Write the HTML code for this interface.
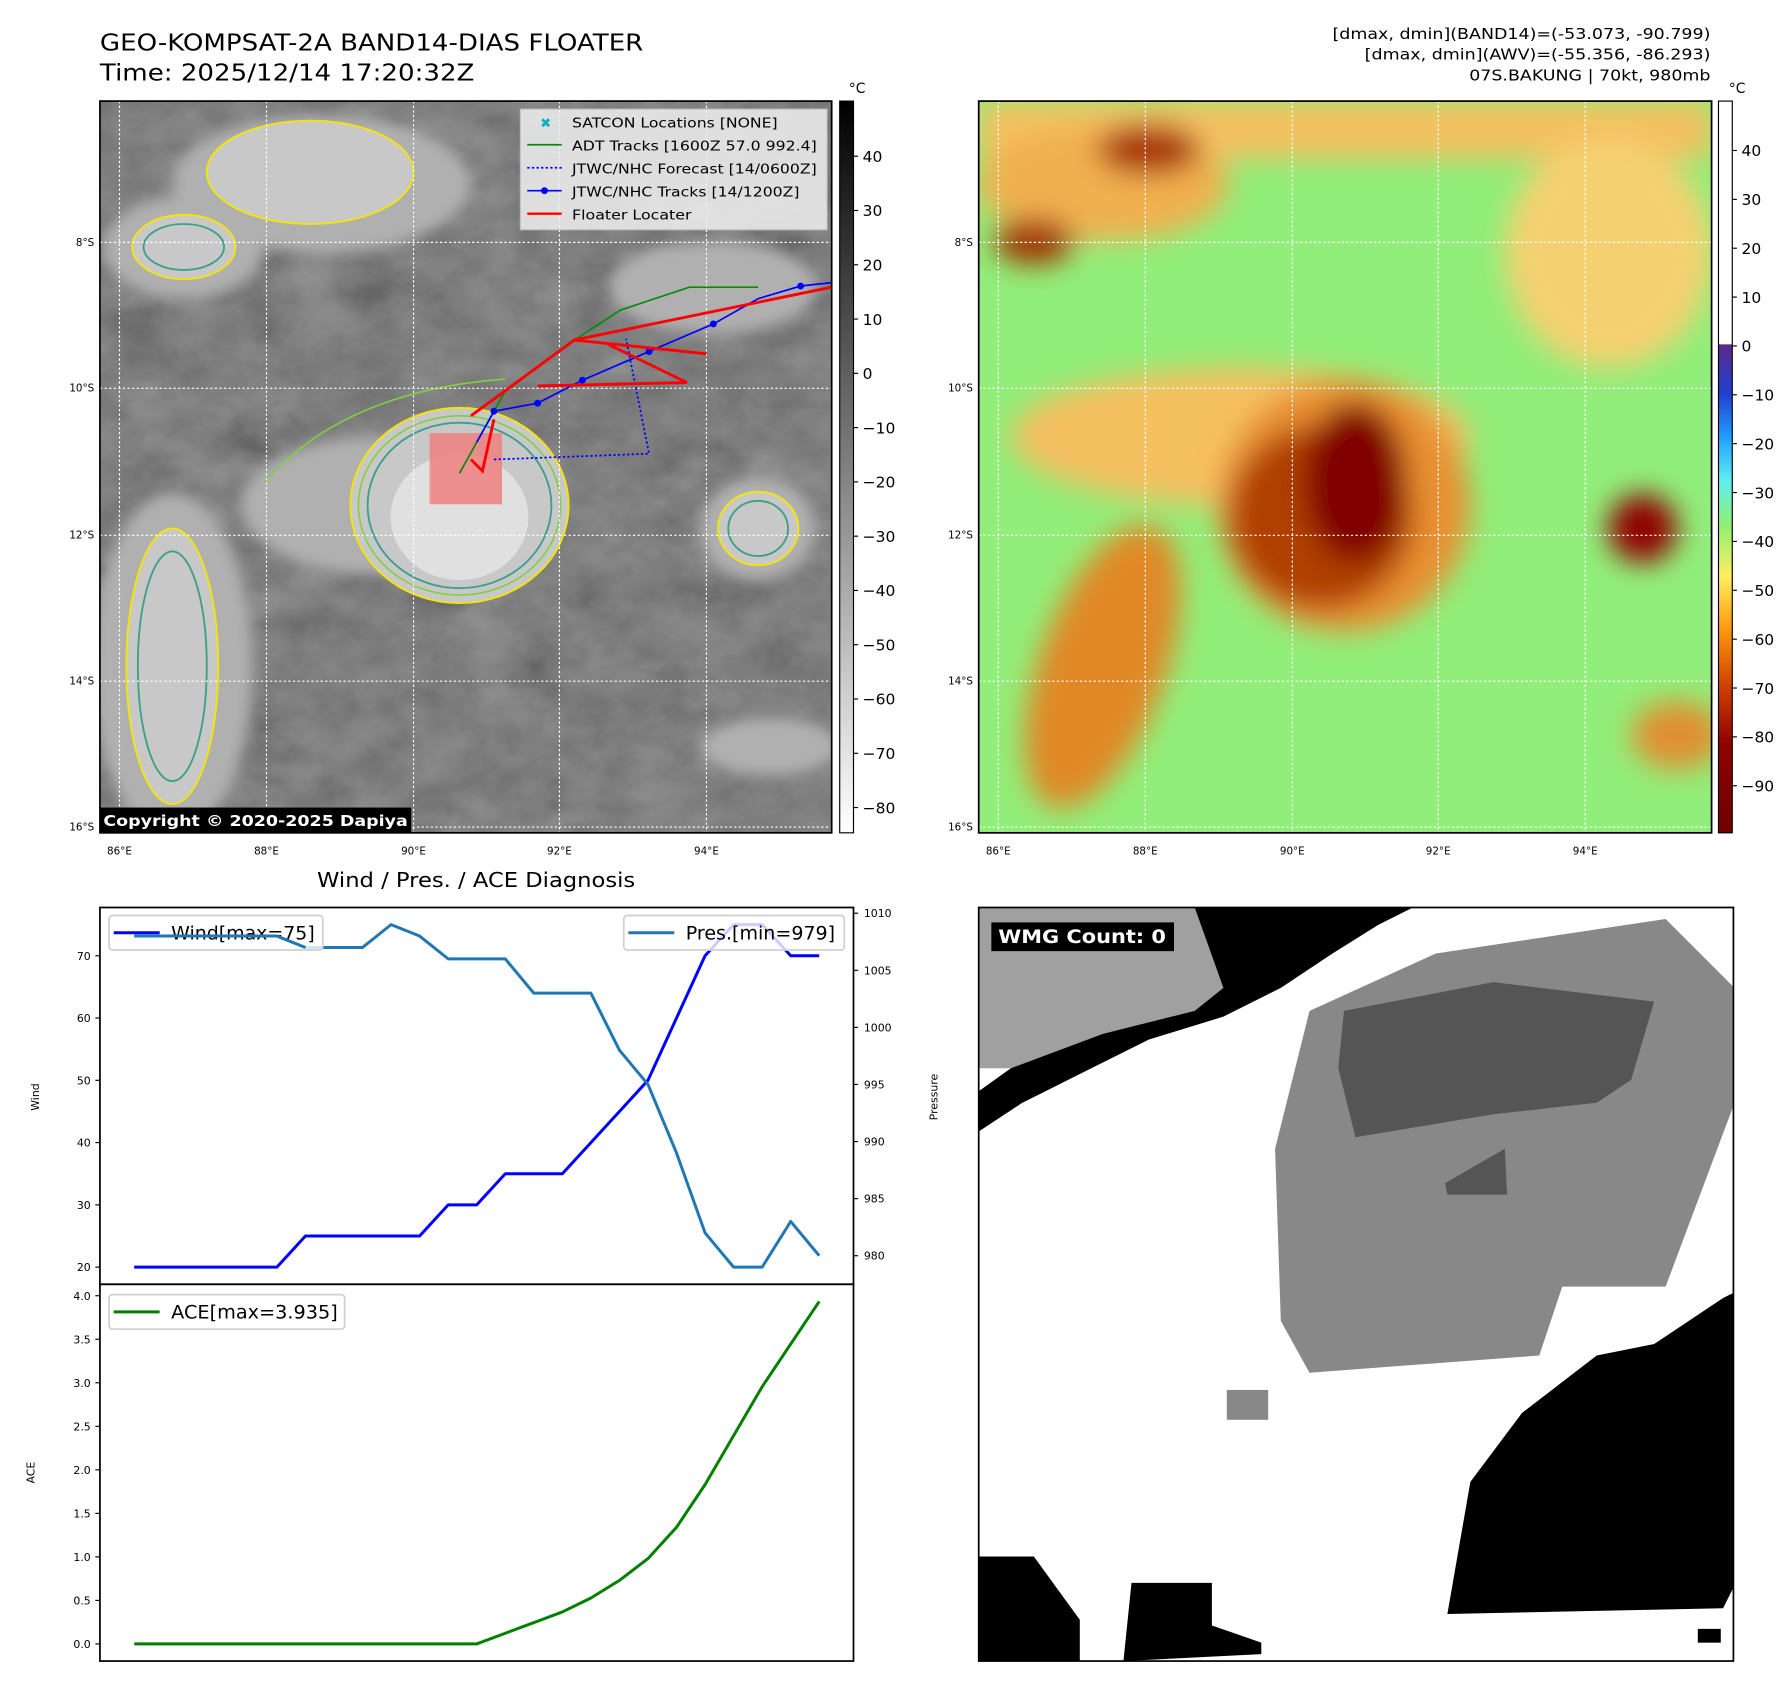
<!DOCTYPE html>
<html><head><meta charset="utf-8"><style>
html,body{margin:0;padding:0;background:#fff}
svg{display:block}
text{font-family:"DejaVu Sans","Liberation Sans",sans-serif}
</style></head><body>
<svg id="fig" xmlns="http://www.w3.org/2000/svg" width="1792" height="1690" viewBox="0 0 1560 1471.2">
<defs>
<filter id="noiseGray" x="0" y="0" width="1" height="1">
<feTurbulence type="fractalNoise" baseFrequency="0.02 0.03" numOctaves="4" seed="7"/>
<feColorMatrix type="matrix" values="0.33 0.33 0.33 0 0  0.33 0.33 0.33 0 0  0.33 0.33 0.33 0 0  0 0 0 0 1"/>
</filter>
<filter id="blur6"><feGaussianBlur stdDeviation="6"/></filter>
<filter id="blur12"><feGaussianBlur stdDeviation="12"/></filter>
<linearGradient id="cbGray" x1="0" y1="0" x2="0" y2="1"><stop offset="0" stop-color="#000"/><stop offset="1" stop-color="#fff"/></linearGradient>
<linearGradient id="cbColor" x1="0" y1="0" x2="0" y2="1">
<stop offset="0" stop-color="#fff"/><stop offset="0.332" stop-color="#fff"/><stop offset="0.333" stop-color="#5a2a8a"/>
<stop offset="0.40" stop-color="#2040d0"/><stop offset="0.46" stop-color="#20a0ff"/><stop offset="0.52" stop-color="#60f0f0"/>
<stop offset="0.58" stop-color="#90f070"/><stop offset="0.65" stop-color="#ffee60"/><stop offset="0.72" stop-color="#ff9a10"/>
<stop offset="0.80" stop-color="#d04000"/><stop offset="0.88" stop-color="#900000"/><stop offset="1" stop-color="#700000"/>
</linearGradient>
<clipPath id="clipL"><rect x="87" y="88" width="637" height="637"/></clipPath>
<clipPath id="clipR"><rect x="852" y="88" width="638" height="637"/></clipPath>
<clipPath id="clipW"><rect x="852" y="790" width="657" height="656"/></clipPath>
</defs>

<!-- Titles -->
<text x="87" y="44" font-size="20" textLength="473" lengthAdjust="spacingAndGlyphs">GEO-KOMPSAT-2A BAND14-DIAS FLOATER</text>
<text x="87" y="70" font-size="20" textLength="326" lengthAdjust="spacingAndGlyphs">Time: 2025/12/14 17:20:32Z</text>
<g font-size="13">
<text x="1160" y="34" textLength="329" lengthAdjust="spacingAndGlyphs">[dmax, dmin](BAND14)=(-53.073, -90.799)</text>
<text x="1188" y="52" textLength="301" lengthAdjust="spacingAndGlyphs">[dmax, dmin](AWV)=(-55.356, -86.293)</text>
<text x="1279" y="70" textLength="210" lengthAdjust="spacingAndGlyphs">07S.BAKUNG | 70kt, 980mb</text>
</g>

<!-- Left satellite map -->
<g clip-path="url(#clipL)">
<rect x="87" y="88" width="637" height="637" fill="#424242"/>
<rect x="87" y="88" width="637" height="637" filter="url(#noiseGray)" opacity="0.5"/>
<g filter="url(#blur6)" fill="#b0b0b0">
<ellipse cx="160" cy="215" rx="70" ry="45"/><ellipse cx="280" cy="160" rx="130" ry="60"/>
<ellipse cx="150" cy="580" rx="70" ry="150"/><ellipse cx="660" cy="460" rx="50" ry="45"/>
<ellipse cx="620" cy="250" rx="90" ry="40"/><ellipse cx="670" cy="650" rx="60" ry="25"/>
<ellipse cx="330" cy="440" rx="120" ry="60"/>
</g>
<g fill="#c8c8c8" stroke="#f5e600" stroke-width="1.6">
<ellipse cx="400" cy="440" rx="95" ry="85"/>
<ellipse cx="160" cy="215" rx="45" ry="28"/><ellipse cx="270" cy="150" rx="90" ry="45"/>
<ellipse cx="660" cy="460" rx="35" ry="32"/><ellipse cx="150" cy="580" rx="40" ry="120"/>
</g>
<g fill="none" stroke="#3aa08a" stroke-width="1.6">
<ellipse cx="400" cy="440" rx="80" ry="72"/><ellipse cx="160" cy="215" rx="35" ry="20"/>
<ellipse cx="660" cy="460" rx="26" ry="24"/><ellipse cx="150" cy="580" rx="30" ry="100"/>
</g>
<g fill="none" stroke="#80d040" stroke-width="1.4">
<ellipse cx="400" cy="440" rx="88" ry="78"/><path d="M230 420 Q300 340 440 330"/>
</g>
<ellipse cx="400" cy="450" rx="60" ry="55" fill="#e0e0e0"/>
<g stroke="#fff" stroke-width="1" stroke-dasharray="2 2" fill="none">
<line x1="104" y1="88" x2="104" y2="725"/><line x1="232" y1="88" x2="232" y2="725"/><line x1="360" y1="88" x2="360" y2="725"/><line x1="487" y1="88" x2="487" y2="725"/><line x1="615" y1="88" x2="615" y2="725"/>
<line x1="87" y1="211" x2="724" y2="211"/><line x1="87" y1="338" x2="724" y2="338"/><line x1="87" y1="466" x2="724" y2="466"/><line x1="87" y1="593" x2="724" y2="593"/><line x1="87" y1="720" x2="724" y2="720"/>
</g>
<rect x="374" y="377" width="63" height="62" fill="#f08080" opacity="0.85"/>
<g fill="none">
<polyline points="400,412 440,340 500,296 540,270 600,250 660,250" stroke="#0a8a0a" stroke-width="1.5"/>
<polyline points="430,400 565,395 552,330 545,295" stroke="#0000ff" stroke-width="1.5" stroke-dasharray="2 2"/>
<polyline points="415,385 430,358 468,351 507,331 565,306 621,282 660,260 697,249 724,246" stroke="#0000ff" stroke-width="1.5"/>
<g fill="#0000ff"><circle cx="430" cy="358" r="3"/><circle cx="468" cy="351" r="3"/><circle cx="507" cy="331" r="3"/><circle cx="565" cy="306" r="3"/><circle cx="621" cy="282" r="3"/><circle cx="697" cy="249" r="3"/></g>
<polyline points="410,362 500,296 724,250" stroke="#ff0000" stroke-width="2.5"/>
<polyline points="500,296 615,308" stroke="#ff0000" stroke-width="2.5"/>
<polyline points="468,336 598,333 530,300" stroke="#ff0000" stroke-width="2.5"/>
<polyline points="430,365 420,410 410,400" stroke="#ff0000" stroke-width="2.5"/>
</g>
<g>
<rect x="453" y="95" width="267" height="105" fill="#f0f0f0" opacity="0.85" stroke="#ccc"/>
<g font-size="11.5">
<text x="475" y="111" fill="#00b0c0" text-anchor="middle">✖</text><text x="498" y="111" textLength="179" lengthAdjust="spacingAndGlyphs">SATCON Locations [NONE]</text>
<line x1="459" y1="126" x2="489" y2="126" stroke="#0a8a0a" stroke-width="1.5"/><text x="498" y="131" textLength="213" lengthAdjust="spacingAndGlyphs">ADT Tracks [1600Z 57.0 992.4]</text>
<line x1="459" y1="146" x2="489" y2="146" stroke="#0000ff" stroke-width="1.5" stroke-dasharray="2 2"/><text x="498" y="151" textLength="213" lengthAdjust="spacingAndGlyphs">JTWC/NHC Forecast [14/0600Z]</text>
<line x1="459" y1="166" x2="489" y2="166" stroke="#0000ff" stroke-width="1.5"/><circle cx="474" cy="166" r="3" fill="#0000ff"/><text x="498" y="171" textLength="198" lengthAdjust="spacingAndGlyphs">JTWC/NHC Tracks [14/1200Z]</text>
<line x1="459" y1="186" x2="489" y2="186" stroke="#ff0000" stroke-width="2"/><text x="498" y="191" textLength="104" lengthAdjust="spacingAndGlyphs">Floater Locater</text>
</g></g>
<rect x="87" y="703" width="271" height="22" fill="#000"/>
<text x="90" y="719" font-size="13.5" font-weight="bold" fill="#fff" textLength="265" lengthAdjust="spacingAndGlyphs">Copyright © 2020-2025 Dapiya</text>
</g>
<rect x="87" y="88" width="637" height="637" fill="none" stroke="#000" stroke-width="1.5"/>

<!-- Right AWV map -->
<g clip-path="url(#clipR)">
<rect x="852" y="88" width="638" height="637" fill="#92ee7a"/>
<g filter="url(#blur12)">
<rect x="852" y="88" width="638" height="50" fill="#f5c060"/>
<ellipse cx="960" cy="160" rx="110" ry="50" fill="#f0b050"/>
<ellipse cx="1400" cy="220" rx="90" ry="100" fill="#f5d070"/>
<ellipse cx="1080" cy="380" rx="200" ry="60" fill="#f5c060"/>
<ellipse cx="1170" cy="440" rx="110" ry="110" fill="#e89030"/>
<ellipse cx="960" cy="580" rx="55" ry="130" fill="#e08828" transform="rotate(20 960 580)"/>
<ellipse cx="1460" cy="640" rx="40" ry="30" fill="#e09030"/>
<ellipse cx="1000" cy="130" rx="45" ry="22" fill="#a83000"/>
<ellipse cx="900" cy="210" rx="35" ry="20" fill="#a03000"/>
<ellipse cx="1430" cy="460" rx="30" ry="30" fill="#900000"/>
<ellipse cx="1150" cy="450" rx="80" ry="80" fill="#b04000"/>
<ellipse cx="1180" cy="420" rx="45" ry="70" fill="#800000"/>
</g>
<g stroke="#fff" stroke-width="1" stroke-dasharray="2 2" fill="none">
<line x1="869" y1="88" x2="869" y2="725"/><line x1="997" y1="88" x2="997" y2="725"/><line x1="1125" y1="88" x2="1125" y2="725"/><line x1="1252" y1="88" x2="1252" y2="725"/><line x1="1380" y1="88" x2="1380" y2="725"/>
<line x1="852" y1="211" x2="1490" y2="211"/><line x1="852" y1="338" x2="1490" y2="338"/><line x1="852" y1="466" x2="1490" y2="466"/><line x1="852" y1="593" x2="1490" y2="593"/><line x1="852" y1="720" x2="1490" y2="720"/>
</g>
</g>
<rect x="852" y="88" width="638" height="637" fill="none" stroke="#000" stroke-width="1.5"/>

<!-- map axes labels -->
<g font-size="9">
<g text-anchor="end"><text x="82" y="214">8°S</text><text x="82" y="341">10°S</text><text x="82" y="469">12°S</text><text x="82" y="596">14°S</text><text x="82" y="723">16°S</text>
<text x="847" y="214">8°S</text><text x="847" y="341">10°S</text><text x="847" y="469">12°S</text><text x="847" y="596">14°S</text><text x="847" y="723">16°S</text></g>
<g text-anchor="middle"><text x="104" y="744">86°E</text><text x="232" y="744">88°E</text><text x="360" y="744">90°E</text><text x="487" y="744">92°E</text><text x="615" y="744">94°E</text>
<text x="869" y="744">86°E</text><text x="997" y="744">88°E</text><text x="1125" y="744">90°E</text><text x="1252" y="744">92°E</text><text x="1380" y="744">94°E</text></g>
</g>

<!-- colorbars -->
<g>
<rect x="731" y="88" width="12" height="637" fill="url(#cbGray)" stroke="#000" stroke-width="1"/>
<text x="739" y="81" font-size="12">°C</text>
<g id="cb1" font-size="13.5"></g>
</g>
<g>
<rect x="1496" y="88" width="12" height="637" fill="url(#cbColor)" stroke="#000" stroke-width="1"/>
<text x="1505" y="81" font-size="12">°C</text>
<g id="cb2" font-size="13.5"></g>
</g>

<!-- WMG panel -->
<g clip-path="url(#clipW)">
<rect x="852" y="790" width="657" height="656" fill="#fff"/>
<polygon points="852,790 1040,790 1065,860 1040,880 960,900 880,930 852,930" fill="#a0a0a0"/>
<polygon points="1040,790 1230,790 1200,805 1160,830 1115,860 1065,885 1000,905 940,935 890,960 852,985 852,950 880,930 960,900 1040,880 1065,860" fill="#000"/>
<polygon points="1140,880 1250,830 1450,800 1510,860 1510,960 1480,1040 1450,1120 1360,1120 1340,1180 1140,1195 1115,1150 1110,1000" fill="#888"/>
<polygon points="1170,880 1300,855 1440,872 1420,940 1390,960 1300,970 1180,990 1165,930" fill="#555"/>
<polygon points="1258,1030 1310,1000 1312,1040 1260,1040" fill="#555"/>
<polygon points="1510,1125 1510,1380 1500,1400 1260,1405 1280,1290 1325,1230 1390,1180 1440,1170 1500,1130" fill="#000"/>
<polygon points="852,1355 900,1355 940,1410 940,1446 852,1446" fill="#000"/>
<polygon points="985,1378 1055,1378 1055,1415 1098,1430 1098,1440 978,1446" fill="#000"/>
<rect x="1068" y="1210" width="36" height="26" fill="#888"/>
<rect x="1478" y="1418" width="20" height="12" fill="#000"/>
<rect x="863" y="803" width="159" height="25" fill="#000"/>
<text x="869" y="821" font-size="16" font-weight="bold" fill="#fff" textLength="146" lengthAdjust="spacingAndGlyphs">WMG Count: 0</text>
</g>
<rect x="852" y="790" width="657" height="656" fill="none" stroke="#000" stroke-width="1.5"/>

<!-- Diagnosis charts -->
<text x="276" y="772" font-size="18" textLength="277" lengthAdjust="spacingAndGlyphs">Wind / Pres. / ACE Diagnosis</text>
<g id="charts"></g>
</svg>
<script>
const NS='http://www.w3.org/2000/svg';
const windValues=[20,20,20,20,20,20,25,25,25,25,25,30,30,35,35,35,40,45,50,60,70,75,75,70,70];
const presValues=[1008,1008,1008,1008,1008,1008,1007,1007,1007,1009,1008,1006,1006,1006,1003,1003,1003,998,995,989,982,979,979,983,980];
const aceValues=[0,0,0,0,0,0,0,0,0,0,0,0,0,0.1225,0.245,0.3675,0.5275,0.73,0.98,1.34,1.83,2.3925,2.955,3.445,3.935];
const windTicks=[20,30,40,50,60,70];
const presTicks=[980,985,990,995,1000,1005,1010];
const aceTicks=[0,0.5,1,1.5,2,2.5,3,3.5,4];
const irCbTicks=[40,30,20,10,0,-10,-20,-30,-40,-50,-60,-70,-80];
const awvCbTicks=[40,30,20,10,0,-10,-20,-30,-40,-50,-60,-70,-80,-90];

function mk(tag,attrs,parent,txt){const e=document.createElementNS(NS,tag);for(const k in attrs)e.setAttribute(k,attrs[k]);if(txt!==undefined)e.textContent=txt;parent.appendChild(e);return e;}
const L=87,R=743,T1=790,B1=1118,T2=1118,B2=1446;
const n=windValues.length;
const xS=i=>L+(i+1.2)/(n-1+2.4)*(R-L);
function lin(d0,d1,r0,r1){return v=>r0+(v-d0)/(d1-d0)*(r1-r0);}
const wMin=Math.min(...windValues),wMax=Math.max(...windValues),wPad=(wMax-wMin)*0.05;
const yW=lin(wMin-wPad,wMax+wPad,B1,T1);
const pMin=Math.min(...presValues),pMax=Math.max(...presValues),pPad=(pMax-pMin)*0.05;
const yP=lin(pMin-pPad,pMax+pPad,B1,T1);
const aMax=Math.max(...aceValues),aPad=aMax*0.05;
const yA=lin(-aPad,aMax+aPad,B2,T2);
const g=document.getElementById('charts');

function axisTicks(ticks,scale,x,side,fmt,name){
  const grp=mk('g',{},g);
  
  
  ticks.forEach(t=>{const y=scale(t);
    mk('line',{x1:x,x2:x+(side<0?-4:4),y1:y,y2:y,stroke:'#000','stroke-width':1},grp);
    mk('text',{x:x+(side<0?-8:9),y:y+3.5,'font-size':9.5,'text-anchor':side<0?'end':'start'},grp,fmt(t));});
}
function line(vals,scale,color,name){
  const p=mk('polyline',{points:vals.map((v,i)=>xS(i)+','+scale(v)).join(' '),fill:'none',stroke:color,'stroke-width':2.6,'stroke-linejoin':'round'},g);
  
  
}
line(windValues,yW,'#0000ff','wind-line');
line(presValues,yP,'#1f77b4','pressure-line');
line(aceValues,yA,'#008000','ace-line');
axisTicks(windTicks,yW,L,-1,t=>t,'wind-y-axis');
axisTicks(presTicks,yP,R,1,t=>t,'pressure-y-axis');
axisTicks(aceTicks,yA,L,-1,t=>t.toFixed(1),'ace-y-axis');
mk('rect',{x:L,y:T1,width:R-L,height:B1-T1,fill:'none',stroke:'#000','stroke-width':1.5},g);
mk('rect',{x:L,y:T2,width:R-L,height:B2-T2,fill:'none',stroke:'#000','stroke-width':1.5},g);
mk('text',{x:34,y:955,'font-size':9.5,'text-anchor':'middle',transform:'rotate(-90 34 955)'},g,'Wind');
mk('text',{x:816,y:955,'font-size':9.5,'text-anchor':'middle',transform:'rotate(-90 816 955)'},g,'Pressure');
mk('text',{x:30,y:1282,'font-size':9.5,'text-anchor':'middle',transform:'rotate(-90 30 1282)'},g,'ACE');
function legend(x,y,w,color,label,name,tl){
  const lg=mk('g',{},g);
  
  
  mk('rect',{x:x,y:y,width:w,height:30,rx:3,fill:'#fff','fill-opacity':0.8,stroke:'#d0d0d0','stroke-width':1.5},lg);
  mk('line',{x1:x+4,x2:x+44,y1:y+15,y2:y+15,stroke:color,'stroke-width':2.6},lg);
  mk('text',{x:x+54,y:y+21,'font-size':16,textLength:tl,lengthAdjust:'spacingAndGlyphs'},lg,label);
}
legend(95,797,186,'#0000ff','Wind[max='+wMax+']','wind-legend',125);
legend(543,797,192,'#1f77b4','Pres.[min='+pMin+']','pressure-legend',130);
legend(95,1127,205,'#008000','ACE[max='+aMax+']','ace-legend',145);
const pl=mk('polyline',{points:presValues.slice(0,7).map((v,i)=>xS(i)+','+yP(v)).join(' '),fill:'none',stroke:'#1f77b4','stroke-width':2.6},g);



function cb(id,ticks,y0,step,x){
  const c=document.getElementById(id);
  ticks.forEach((t,i)=>{const y=y0+i*step;
    mk('line',{x1:x,x2:x+4,y1:y,y2:y,stroke:'#000'},c);
    mk('text',{x:x+8,y:y+5},c,String(t).replace('-','−'));});
}
cb('cb1',irCbTicks,136,47.25,743);
cb('cb2',awvCbTicks,131,42.54,1508);
</script>
</body></html>
